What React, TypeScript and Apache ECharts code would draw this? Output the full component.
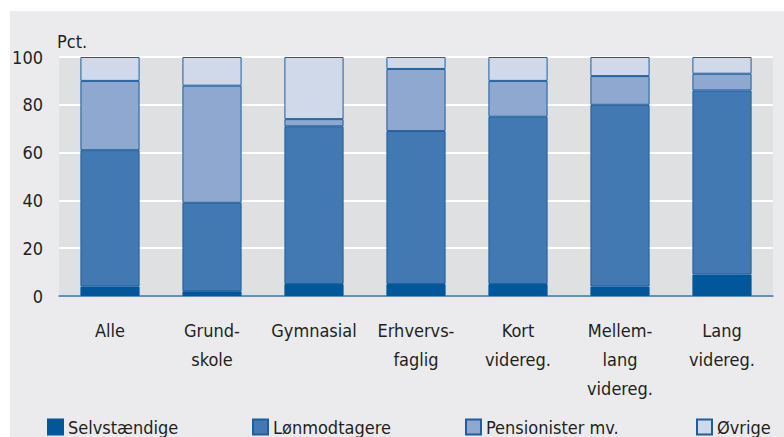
import React, { useEffect, useRef } from "react";
import * as echarts from "echarts";

const categories = [
  "Alle",
  "Grund-\nskole",
  "Gymnasial",
  "Erhvervs-\nfaglig",
  "Kort\nvidereg.",
  "Mellem-\nlang\nvidereg.",
  "Lang\nvidereg.",
];
const seriesNames = ["Selvstændige", "Lønmodtagere", "Pensionister mv.", "Øvrige"];
const selvstaendige = [4, 2, 5, 5, 5, 4, 9];
const loenmodtagere = [57, 37, 66, 64, 70, 76, 77];
const pensionister = [29, 49, 3, 26, 15, 12, 7];
const oevrige = [10, 12, 26, 5, 10, 8, 7];
const yTicks = [0, 20, 40, 60, 80, 100];

const FONT = "'DejaVu Sans Condensed', 'Noto Sans', sans-serif";
const TXT = "#231f20";
const FS = 18;

export default function App() {
  const ref = useRef<HTMLDivElement>(null);
  useEffect(() => {
    if (!ref.current) return;
    const chart = echarts.init(ref.current, null, { renderer: "svg" });
    const colors = ["#00589b", "#4379b2", "#8ea8d0", "#cfd9ea"];
    const values = [selvstaendige, loenmodtagere, pensionister, oevrige];
    const legendX = [47, 252, 465, 696];
    chart.setOption({
      animation: false,
      backgroundColor: "#ffffff",
      textStyle: { fontFamily: FONT },
      graphic: [
        {
          type: "rect",
          z: -10,
          shape: { x: 10, y: 11, width: 774, height: 426 },
          style: { fill: "#ebebed" },
        },
        {
          type: "text",
          x: 57,
          y: 41,
          style: {
            text: "Pct.",
            fontSize: FS,
            fontFamily: FONT,
            fill: TXT,
            verticalAlign: "middle",
          },
        },
      ],
      grid: {
        left: 59,
        right: 11,
        top: 57,
        bottom: 141,
        show: true,
        backgroundColor: "#dfe0e2",
        borderWidth: 0,
      },
      legend: seriesNames.map((n, i) => ({
        data: [n],
        left: legendX[i],
        top: 418,
        padding: 0,
        icon: "rect",
        itemWidth: 15,
        itemHeight: 15,
        itemGap: 5,
        textStyle: { fontSize: FS, color: TXT, fontFamily: FONT },
      })),
      xAxis: {
        type: "category",
        data: categories,
        axisLine: { show: true, lineStyle: { color: "#2f6eaa", width: 1.5 } },
        axisTick: { show: false },
        axisLabel: {
          fontSize: FS,
          lineHeight: 29,
          color: TXT,
          margin: 20,
          interval: 0,
          fontFamily: FONT,
        },
      },
      yAxis: {
        type: "value",
        min: yTicks[0],
        max: yTicks[yTicks.length - 1],
        interval: 20,
        axisLine: { show: false },
        axisTick: { show: false },
        axisLabel: { fontSize: FS, color: TXT, margin: 16, fontFamily: FONT },
        splitLine: { lineStyle: { color: "#ffffff", width: 2 } },
      },
      series: seriesNames.map((n, i) => ({
        name: n,
        type: "bar",
        stack: "total",
        barWidth: "58%",
        data: values[i],
        itemStyle: {
          color: colors[i],
          borderColor: i === 0 ? colors[0] : "#1d5f9e",
          borderWidth: 1,
        },
      })),
    });
    return () => chart.dispose();
  }, []);
  return (
    <div
      ref={ref}
      style={{ position: "absolute", left: 0, top: 0, width: 784, height: 437 }}
    />
  );
}
